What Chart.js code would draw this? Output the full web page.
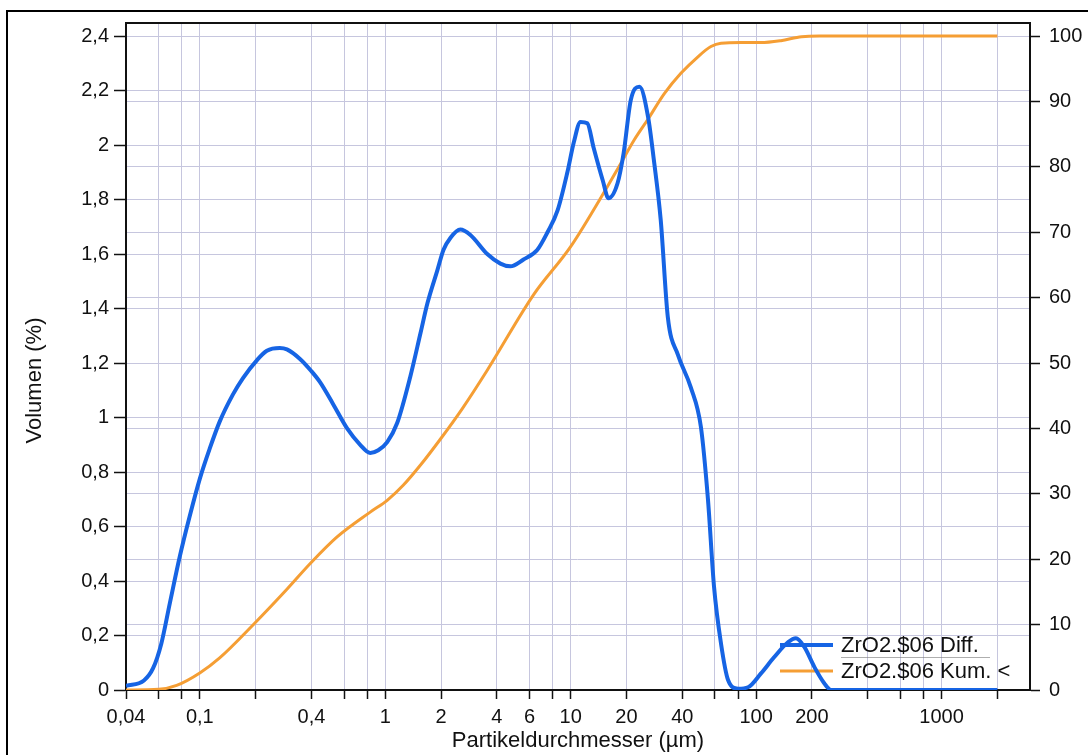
<!DOCTYPE html>
<html>
<head>
<meta charset="utf-8">
<script src="https://cdn.jsdelivr.net/npm/chart.js@4.4.1/dist/chart.umd.min.js"></script>
<style>
html, body { margin: 0; padding: 0; background: #fff; overflow: hidden; }
#wrap { position: relative; width: 1088px; height: 755px; }
#frame { position: absolute; left: 6px; top: 10px; width: 1200px; height: 900px; border: 2px solid #000; pointer-events: none; }
</style>
</head>
<body>
<div id="wrap">
  <canvas id="grafica" width="1088" height="755"></canvas>
  <div id="frame"></div>
</div>
<script>
// Partikelgroesse (µm) und Volumen (%) - Differenzverteilung
var diffSize = [0.04, 0.05, 0.056, 0.062, 0.069, 0.078, 0.088, 0.1, 0.113, 0.128, 0.151, 0.171, 0.203, 0.23, 0.27, 0.295,
    0.347, 0.4, 0.445, 0.523, 0.623, 0.733, 0.83, 0.917, 1.025, 1.16, 1.365, 1.55, 1.69, 1.91, 2.06, 2.25, 2.54, 2.88,
    3.55, 4.18, 4.73, 5.57, 6.6, 7.5, 8.5, 9.6, 10.4, 11.3, 12.3, 13.3, 14.9, 16.0, 17.9, 19.3, 21.1, 23.5, 26.2,
    28.1, 30.6, 33.4, 37.9, 44.5, 50.4, 55, 59.3, 64.7, 70.6, 80, 90.5, 106, 125, 149, 164, 182, 206, 233, 254, 2000];
var diffVol = [0.015, 0.035, 0.08, 0.17, 0.32, 0.49, 0.635, 0.775, 0.885, 0.985, 1.085, 1.145, 1.21, 1.245, 1.255, 1.25,
    1.215, 1.17, 1.13, 1.05, 0.96, 0.90, 0.87, 0.88, 0.91, 0.98, 1.15, 1.31, 1.42, 1.54, 1.615, 1.66, 1.69, 1.67,
    1.60, 1.565, 1.555, 1.58, 1.615, 1.68, 1.76, 1.90, 2.01, 2.085, 2.08, 1.99, 1.87, 1.805, 1.86, 1.97, 2.165, 2.214, 2.10,
    1.945, 1.725, 1.37, 1.23, 1.11, 0.965, 0.70, 0.38, 0.17, 0.037, 0.005, 0.01, 0.06, 0.12, 0.176, 0.19, 0.158, 0.085, 0.025, 0, 0];

// Summenverteilung (%)
var kumSize = [0.04, 0.06, 0.075, 0.1, 0.128, 0.193, 0.295, 0.393, 0.55, 0.83, 1.025, 1.25, 1.55, 2.0, 2.6,
    3.55, 6.33, 10, 15.8, 18.2, 22, 26, 32, 39.3, 48.4, 57.1, 64.7, 83, 106, 136, 176, 220, 2000];
var kumVol = [0, 0.1, 0.7, 2.6, 4.9, 9.9, 15.4, 19.3, 23.4, 27.2, 29.0, 31.3, 34.4, 38.5, 43.0,
    48.9, 60.5, 67.8, 77.0, 80.0, 84.1, 87.2, 91.2, 94.3, 96.8, 98.4, 98.9, 99.0, 99.0, 99.3, 99.9, 100, 100];

var seriesNames = ['ZrO2.$06 Diff.', 'ZrO2.$06 Kum. <'];
var yTitel = 'Volumen (%)';

// Achsen
var xTicks = [0.04, 0.06, 0.08, 0.1, 0.2, 0.4, 0.6, 0.8, 1, 2, 4, 6, 8, 10, 20, 40, 60, 80, 100, 200, 400, 600, 800, 1000, 2000];
var xLabels = [0.04, 0.1, 0.4, 1, 2, 4, 6, 10, 20, 40, 100, 200, 1000];
var leftTicks = [0, 0.2, 0.4, 0.6, 0.8, 1, 1.2, 1.4, 1.6, 1.8, 2, 2.2, 2.4];
var rightTicks = [0, 10, 20, 30, 40, 50, 60, 70, 80, 90, 100];

function punkte(xs, ys) {
    return xs.map(function (x, i) { return { x: x, y: ys[i] }; });
}

function komma(v) {
    return String(Math.round(v * 100) / 100).replace('.', ',');
}

var gitter = 'rgb(198, 198, 222)';
var familie = "'Liberation Sans', Arial, sans-serif";
var schrift = { family: familie, size: 20 };

Chart.defaults.font.family = familie;
Chart.defaults.color = '#111';

// Rahmen um die Zeichenflaeche, Legende und Achsentitel links
var rahmen = {
    id: 'rahmen',
    beforeDatasetsDraw: function (chart) {
        var a = chart.chartArea, c = chart.ctx;
        c.save();
        c.strokeStyle = '#111';
        c.lineWidth = 2;
        c.strokeRect(a.left, a.top, a.right - a.left, a.bottom - a.top);

        // Legende unten rechts in der Flaeche
        var x0 = a.right - 250, y0 = a.bottom - 45;
        c.font = '22px ' + familie;
        c.textBaseline = 'middle';
        chart.data.datasets.forEach(function (ds, i) {
            var y = y0 + i * 26;
            c.strokeStyle = ds.borderColor;
            c.lineWidth = ds.borderWidth;
            c.beginPath();
            c.moveTo(x0, y);
            c.lineTo(x0 + 53, y);
            c.stroke();
            c.fillStyle = '#111';
            c.fillText(ds.label, x0 + 61, y + 1);
        });
        c.strokeStyle = 'rgba(120,120,120,0.6)';
        c.lineWidth = 1;
        c.beginPath();
        c.moveTo(x0 + 61, y0 + 12.5);
        c.lineTo(x0 + 210, y0 + 12.5);
        c.stroke();

        // Titel der linken Achse, etwas unter der Mitte wie im Original
        c.translate(35, (a.top + a.bottom) / 2 + 24);
        c.rotate(-Math.PI / 2);
        c.textAlign = 'center';
        c.fillStyle = '#111';
        c.fillText(yTitel, 0, 0);
        c.restore();
    }
};

var ctx = document.getElementById('grafica').getContext('2d');
var grafica = new Chart(ctx, {
    type: 'line',
    data: {
        datasets: [{
            label: seriesNames[0],
            data: punkte(diffSize, diffVol),
            yAxisID: 'y',
            borderColor: 'rgb(22, 100, 228)',
            borderWidth: 4,
            pointRadius: 0,
            fill: false,
            cubicInterpolationMode: 'monotone'
        }, {
            label: seriesNames[1],
            data: punkte(kumSize, kumVol),
            yAxisID: 'y2',
            borderColor: 'rgb(245, 158, 52)',
            borderWidth: 3,
            pointRadius: 0,
            fill: false,
            cubicInterpolationMode: 'monotone'
        }]
    },
    options: {
        responsive: false,
        animation: false,
        devicePixelRatio: 1,
        layout: { padding: { top: 23, left: 0, right: 0, bottom: 0 } },
        plugins: {
            legend: { display: false },
            tooltip: { enabled: false }
        },
        scales: {
            x: {
                type: 'logarithmic',
                min: 0.04,
                max: 3000,
                afterBuildTicks: function (scale) {
                    scale.ticks = xTicks.map(function (v) { return { value: v }; });
                },
                afterFit: function (scale) { scale.height = 65; },
                ticks: {
                    autoSkip: false,
                    maxRotation: 0,
                    padding: 6,
                    font: schrift,
                    color: '#111',
                    callback: function (v) {
                        return xLabels.indexOf(v) >= 0 ? komma(v) : '';
                    }
                },
                grid: { color: gitter, tickColor: '#111', tickLength: 9, tickWidth: 1.5 },
                border: { color: '#111', width: 2 },
                title: {
                    display: true,
                    text: 'Partikeldurchmesser (µm)',
                    font: { family: familie, size: 22, lineHeight: 1 },
                    padding: { top: 0, bottom: 3 },
                    color: '#111'
                }
            },
            y: {
                type: 'linear',
                position: 'left',
                min: 0,
                max: 2.448,
                afterBuildTicks: function (scale) {
                    scale.ticks = leftTicks.map(function (v) { return { value: v }; });
                },
                afterFit: function (scale) { scale.width = 126; },
                ticks: {
                    padding: 5,
                    font: schrift,
                    color: '#111',
                    callback: function (v) { return komma(v); }
                },
                grid: { color: gitter, tickColor: '#111', tickLength: 12, tickWidth: 1.5 },
                border: { color: '#111', width: 2 }
            },
            y2: {
                type: 'linear',
                position: 'right',
                min: 0,
                max: 102,
                afterBuildTicks: function (scale) {
                    scale.ticks = rightTicks.map(function (v) { return { value: v }; });
                },
                afterFit: function (scale) { scale.width = 58; },
                ticks: {
                    padding: 9,
                    font: schrift,
                    color: '#111',
                    callback: function (v) { return String(v); }
                },
                grid: { color: gitter, tickColor: '#111', tickLength: 10, tickWidth: 1.5, drawOnChartArea: true },
                border: { color: '#111', width: 2 }
            }
        }
    },
    plugins: [rahmen]
});
</script>
</body>
</html>
